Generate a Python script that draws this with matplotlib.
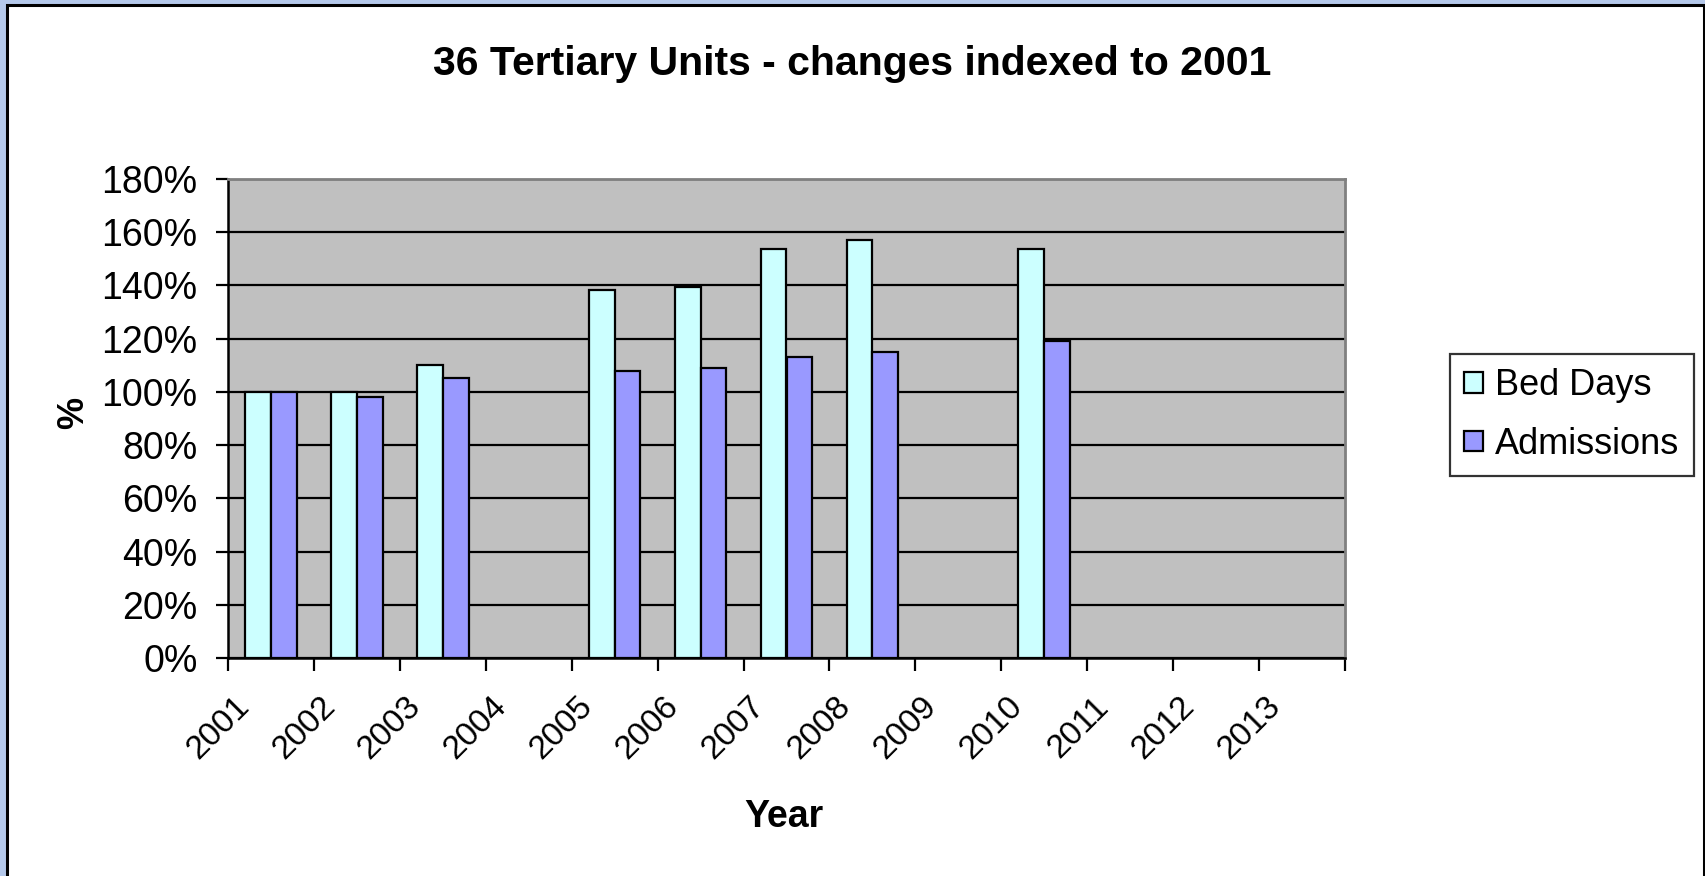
import numpy as np
import matplotlib
matplotlib.use('Agg')
import matplotlib.pyplot as plt
from matplotlib.patches import Rectangle

plt.rcParams['font.family'] = ['Liberation Sans', 'DejaVu Sans']

# data (percent of 2001)
years = ['2001', '2002', '2003', '2004', '2005', '2006', '2007',
         '2008', '2009', '2010', '2011', '2012', '2013']
bed_days = [100, 100, 110, None, 138.2, 139.3, 153.8, 157.0, None, 153.8, None, None, None]
admissions = [100, 98.0, 105.3, None, 107.8, 108.9, 113.1, 115.1, None, 119.0, None, None, None]
y_ticks = [0, 20, 40, 60, 80, 100, 120, 140, 160, 180]

W, H = 1705, 876
fig = plt.figure(figsize=(W / 100, H / 100), dpi=100, facecolor='#b4c8ea')

# white chart area with black frame line
fig.patches.append(Rectangle((6.5 / W, -20 / H), (1703.5 - 6.5) / W, (H - 5 + 20) / H,
                             transform=fig.transFigure, facecolor='white',
                             edgecolor='black', linewidth=2.2, zorder=-10))

ax = fig.add_axes([228 / W, 1 - 658 / H, (1345 - 228) / W, (658 - 179) / H])
ax.set_facecolor('#c0c0c0')
ax.set_zorder(1)

x = np.arange(len(years))
bw = 0.3
bx = [i - bw / 2 for i, v in enumerate(bed_days) if v is not None]
bv = [v for v in bed_days if v is not None]
axx = [i + bw / 2 for i, v in enumerate(admissions) if v is not None]
av = [v for v in admissions if v is not None]
ax.bar(bx, bv, width=bw, color='#ccffff', edgecolor='black', linewidth=1.6,
       label='Bed Days', zorder=3)
ax.bar(axx, av, width=bw, color='#9999ff', edgecolor='black', linewidth=1.6,
       label='Admissions', zorder=3)

ax.set_xlim(-0.5, len(years) - 0.5)
ax.set_ylim(0, 180)
ax.set_yticks(y_ticks)
ax.set_yticklabels([f'{v}%' for v in y_ticks], fontsize=27)
ax.yaxis.grid(True, color='black', linewidth=1.6)
ax.set_axisbelow(True)

# boundary ticks, labels sit a little left of each category centre (Excel style)
ax.set_xticks(np.arange(-0.5, len(years), 1.0))
ax.set_xticklabels([])
ax.set_xticks(x - 0.24, minor=True)
ax.set_xticklabels(years, minor=True, rotation=45, ha='right', va='baseline',
                   rotation_mode='anchor', fontsize=24)
ax.tick_params(axis='x', which='minor', length=0, pad=36)
ax.tick_params(axis='x', which='major', direction='out', length=9, width=1.6)
ax.tick_params(axis='y', direction='out', length=9, width=1.6, pad=13)

for s in ['left', 'bottom']:
    ax.spines[s].set_color('black')
    ax.spines[s].set_linewidth(1.8)
for s in ['top', 'right']:
    ax.spines[s].set_color('#808080')
    ax.spines[s].set_linewidth(2)

fig.text(852 / W, 1 - 64 / H, '36 Tertiary Units - changes indexed to 2001',
         ha='center', va='center', fontsize=29.5, fontweight='bold')
fig.text(74 / W, 1 - 413 / H, '%', ha='center', va='center', rotation=90,
         fontsize=26, fontweight='bold')
fig.text(784 / W, 1 - 817 / H, 'Year', ha='center', va='center',
         fontsize=27, fontweight='bold')

leg = fig.legend(loc='upper left', bbox_to_anchor=(1450 / W, 1 - 354 / H),
                 fontsize=26, frameon=True, fancybox=False, handlelength=0.5,
                 handleheight=0.5, handletextpad=0.35, labelspacing=0.65,
                 borderpad=0.4, borderaxespad=0)
leg.get_frame().set_edgecolor('black')
leg.get_frame().set_linewidth(1.6)

fig.savefig('out.png', dpi=100, facecolor=fig.get_facecolor())
